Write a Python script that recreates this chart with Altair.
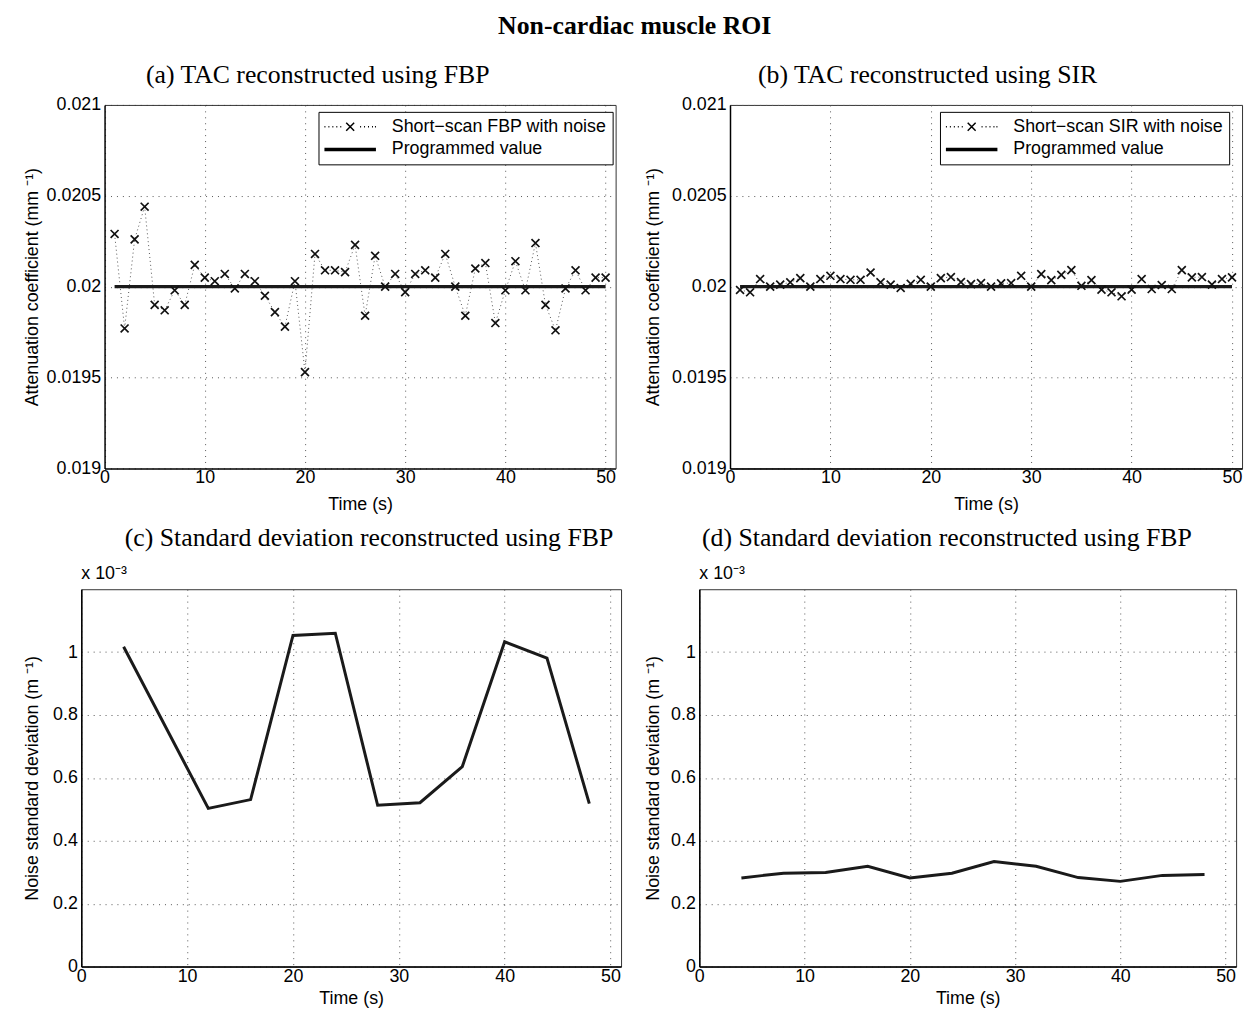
import altair as alt
import pandas as pd

# ---------------- data ----------------
TIME_TAC = list(range(1, 51))
FBP_TAC = [0.02029, 0.01977, 0.02026, 0.02044, 0.01990, 0.01987, 0.01998, 0.01990, 0.02012, 0.02005,
           0.02003, 0.02007, 0.01999, 0.02007, 0.02003, 0.01995, 0.01986, 0.01978, 0.02003, 0.01953,
           0.02018, 0.02009, 0.02009, 0.02008, 0.02023, 0.01984, 0.02017, 0.02000, 0.02007, 0.01997,
           0.02007, 0.02009, 0.02005, 0.02018, 0.02000, 0.01984, 0.02010, 0.02013, 0.01980, 0.01998,
           0.02014, 0.01998, 0.02024, 0.01990, 0.01976, 0.01999, 0.02009, 0.01998, 0.02005, 0.02005]
SIR_TAC = [0.019982, 0.019969, 0.020042, 0.020000, 0.020011, 0.020024, 0.020047, 0.020000, 0.020042, 0.020060,
           0.020042, 0.020038, 0.020038, 0.020078, 0.020024, 0.020011, 0.019993, 0.020016, 0.020038, 0.020000,
           0.020047, 0.020053, 0.020025, 0.020014, 0.020020, 0.020000, 0.020018, 0.020020, 0.020060, 0.020000,
           0.020069, 0.020036, 0.020065, 0.020091, 0.020005, 0.020036, 0.019984, 0.019969, 0.019947, 0.019984,
           0.020042, 0.019987, 0.020009, 0.019987, 0.020091, 0.020051, 0.020053, 0.020011, 0.020042, 0.020051]
PROGRAMMED_VALUE = 0.02

TIME_STD_FBP = [4, 12, 16, 20, 24, 28, 32, 36, 40, 44, 48]
FBP_STD = [1.017, 0.503, 0.531, 1.053, 1.060, 0.513, 0.521, 0.636, 1.033, 0.981, 0.518]
TIME_STD_SIR = [4, 8, 12, 16, 20, 24, 28, 32, 36, 40, 44, 48]
SIR_STD = [0.282, 0.297, 0.299, 0.319, 0.282, 0.297, 0.334, 0.319, 0.283, 0.271, 0.290, 0.293]

X_DOMAIN = [0, 51]
X_TICKS = [0, 10, 20, 30, 40, 50]
Y_DOMAIN_TAC = [0.019, 0.021]
Y_TICKS_TAC = [0.019, 0.0195, 0.02, 0.0205, 0.021]
Y_DOMAIN_STD = [0, 1.2]
Y_TICKS_STD = [0, 0.2, 0.4, 0.6, 0.8, 1.0]

MAIN_TITLE = "Non-cardiac muscle ROI"
SUB_A = "(a) TAC reconstructed using FBP"
SUB_B = "(b) TAC reconstructed using SIR"
SUB_C = "(c) Standard deviation reconstructed using FBP"
SUB_D = "(d) Standard deviation reconstructed using FBP"
X_TITLE = "Time (s)"
Y_TITLE_TAC = "Attenuation coefficient (mm \u207b\u00b9)"
Y_TITLE_STD = "Noise standard deviation (m \u207b\u00b9)"
EXPONENT_LABEL = "x 10\u207b\u00b3"
NOISE_FBP = "Short\u2212scan FBP with noise"
NOISE_SIR = "Short\u2212scan SIR with noise"
PROG = "Programmed value"

# ---------------- styles ----------------
SANS = "Liberation Sans"
SERIF = "Liberation Serif"
CROSS = "M-1,-1L1,1M1,-1L-1,1"
_dots = [-5.2, -4.4, -3.6, -2.8, -2.0, 2.0, 2.8, 3.6, 4.4, 5.0]
NOISE_SYMBOL = "".join(f"M{d},0h0.2" for d in _dots) + "M-0.8,-0.8L0.8,0.8M0.8,-0.8L-0.8,0.8"
PROG_SYMBOL = "M-5.2,0H5.2"
FRAME = "#333"


def sub_title(text, dx, offset):
    return alt.TitleParams(text, font=SERIF, fontSize=26, fontWeight="normal",
                           anchor="middle", offset=offset, dx=dx, color="black")


def frame_axis(orient):
    return alt.Axis(orient=orient, labels=False, ticks=False, grid=False, title=None,
                    domain=True, domainColor=FRAME, domainWidth=1)


def tac_panel(values, noise_label, subtitle, dx, ytitle_pad, plot_w, inset, legend_x):
    """inset > 0: the framed plot area starts `inset` px right of the view origin."""
    noise = pd.DataFrame({"time": TIME_TAC, "value": values, "series": noise_label})
    prog = pd.DataFrame({"time": TIME_TAC, "value": [PROGRAMMED_VALUE] * len(TIME_TAC), "series": PROG})
    both = pd.concat([noise, prog], ignore_index=True)
    view_w = plot_w + inset
    xs = alt.Scale(domain=X_DOMAIN, nice=False, zero=False,
                   **({"range": [inset, view_w]} if inset else {}))
    ys = alt.Scale(domain=Y_DOMAIN_TAC, nice=False, zero=False)
    main_x = alt.X("time:Q", scale=xs,
                   axis=alt.Axis(values=X_TICKS, title=X_TITLE, format="d",
                                 labelPadding=0, titlePadding=9))
    y_axis_kw = dict(values=Y_TICKS_TAC, format=".6~g", title=Y_TITLE_TAC, titlePadding=ytitle_pad)
    if inset:
        y_axis_kw["offset"] = -inset
    main_y = alt.Y("value:Q", scale=ys, axis=alt.Axis(**y_axis_kw))
    if inset:
        nx = alt.X("time:Q", scale=xs, axis=None)
        ny = alt.Y("value:Q", scale=ys, axis=None)
        cx = alt.X("time:Q", scale=xs, axis=frame_axis("top"))
        cy = alt.Y("value:Q", scale=ys, axis=frame_axis("right"))
    else:
        nx, ny, cx, cy = main_x, main_y, main_x, main_y

    leg = alt.Legend(title=None, orient="none", legendX=legend_x, legendY=7, symbolSize=100,
                     symbolOffset=17, labelOffset=33, padding=6, rowPadding=5, labelLimit=400,
                     strokeColor="black", fillColor="white", labelFont=SANS, labelFontSize=18,
                     labelColor="black", symbolOpacity=1, symbolStrokeColor="black",
                     symbolFillColor="transparent", cornerRadius=0)
    dom = [noise_label, PROG]
    dotted = alt.Chart(noise).mark_line(color="#555", strokeWidth=1, strokeDash=[1, 3]).encode(
        x=main_x, y=main_y)
    prog_line = alt.Chart(prog).mark_line(color="#1a1a1a", strokeWidth=3.3).encode(x=nx, y=ny)
    crosses = alt.Chart(noise).mark_point(shape=CROSS, size=64, strokeWidth=1.7, filled=False,
                                          color="#111", opacity=1).encode(x=cx, y=cy)
    legend_layer = alt.Chart(both).mark_point(filled=False, color="black", opacity=0).encode(
        x=nx, y=ny,
        shape=alt.Shape("series:N", scale=alt.Scale(domain=dom, range=[NOISE_SYMBOL, PROG_SYMBOL]), legend=leg),
        strokeWidth=alt.StrokeWidth("series:O", scale=alt.Scale(domain=dom, range=[1.5, 3.3]), legend=leg),
    )
    props = dict(width=view_w, height=367, title=sub_title(subtitle, dx, 8))
    if inset:
        props["view"] = alt.ViewBackground(stroke="transparent")
    out = alt.layer(dotted, prog_line, crosses, legend_layer).properties(**props)
    if inset:
        out = out.resolve_axis(x="independent", y="independent")
    return out


def std_panel(times, values, subtitle, dx, ytitle_pad, width):
    df = pd.DataFrame({"time": times, "std": values})
    x = alt.X("time:Q", scale=alt.Scale(domain=X_DOMAIN, nice=False, zero=False),
              axis=alt.Axis(values=X_TICKS, title=X_TITLE, format="d", labelPadding=1, titlePadding=4))
    y = alt.Y("std:Q", scale=alt.Scale(domain=Y_DOMAIN_STD, nice=False, zero=False),
              axis=alt.Axis(values=Y_TICKS_STD, format=".6~g", title=Y_TITLE_STD,
                            titlePadding=ytitle_pad))
    line = alt.Chart(df).mark_line(color="#1a1a1a", strokeWidth=3).encode(x=x, y=y)
    expo = alt.Chart(pd.DataFrame({"label": [EXPONENT_LABEL]})).mark_text(
        align="left", baseline="middle", font=SANS, fontSize=18, color="black"
    ).encode(x=alt.value(0), y=alt.value(-15), text="label:N")
    return alt.layer(line, expo).properties(width=width, height=381,
                                            title=sub_title(subtitle, dx, 15))


INSET_A = 23.5
a = tac_panel(FBP_TAC, NOISE_FBP, SUB_A, -31, 5, 516, INSET_A, 216 + INSET_A)
b = tac_panel(SIR_TAC, NOISE_SIR, SUB_B, -59, 9, 517, 0, 212)
c = std_panel(TIME_STD_FBP, FBP_STD, SUB_C, 18, 11.5, 545)
d = std_panel(TIME_STD_SIR, SIR_STD, SUB_D, -21, 8, 542)

chart = alt.concat(
    a, b, c, d, columns=2, align="none", spacing={"row": 10, "column": 22}
).resolve_scale(
    shape="independent", strokeWidth="independent"
).resolve_legend(
    shape="independent", strokeWidth="independent"
).properties(
    title=alt.TitleParams(MAIN_TITLE, font=SERIF, fontSize=26, fontWeight="bold",
                          anchor="middle", offset=23, color="black"),
    padding={"left": 14, "top": 0, "right": 0, "bottom": 0},
    background="white",
).configure_axis(
    labelFont=SANS, labelFontSize=18, labelColor="black",
    titleFont=SANS, titleFontSize=18, titleFontWeight="normal", titleColor="black",
    domainColor="black", domainWidth=1.5, ticks=False, tickSize=0,
    gridColor="#555", gridDash=[1, 5], gridWidth=1, gridOpacity=1, labelFlush=False,
).configure_axisY(labelPadding=4).configure_view(
    stroke=FRAME, strokeWidth=1
)

chart.save("out.html", embed_options={"renderer": "svg", "actions": False})
